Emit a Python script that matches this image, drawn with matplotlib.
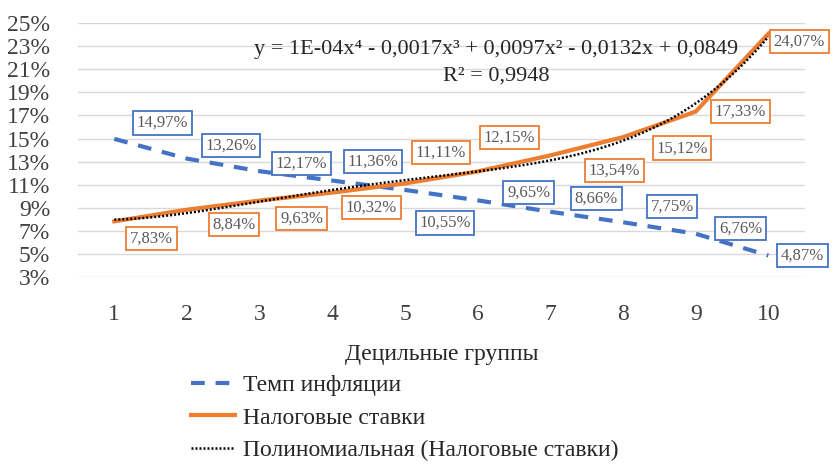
import numpy as np
import matplotlib
matplotlib.use("Agg")
import matplotlib.pyplot as plt

plt.rcParams['font.family'] = ['Liberation Serif', 'DejaVu Serif']

# децильные группы
deciles = np.arange(1, 11)
inflation = np.array([14.97, 13.26, 12.17, 11.36, 10.55, 9.65, 8.66, 7.75, 6.76, 4.87])
tax = np.array([7.83, 8.84, 9.63, 10.32, 11.11, 12.15, 13.54, 15.12, 17.33, 24.07])
infl_labels = ['14,97%', '13,26%', '12,17%', '11,36%', '10,55%',
               '9,65%', '8,66%', '7,75%', '6,76%', '4,87%']
tax_labels = ['7,83%', '8,84%', '9,63%', '10,32%', '11,11%',
              '12,15%', '13,54%', '15,12%', '17,33%', '24,07%']

# где стоят подписи (смещение в пикселях)
infl_off = [(48, 16), (44, 13), (42, 8), (41, 19), (40, -33),
            (51, 8), (46, 13), (49, 16), (45, 5), (34, 0)]
tax_off = [(37, -17), (47, -15), (42, -18), (39, -15), (36, 31),
           (32, 34), (64, -15), (59, -11), (45, 0), (31, -8)]

blue = '#4472C4'
orange = '#ED7D31'

fig = plt.figure(figsize=(8.33, 4.65), dpi=100)
ax = fig.add_axes([0.0936, 0.404, 0.8724, 0.5465])

# полиномиальный тренд 4 степени
coef = np.polyfit(deciles, tax, 4)
xx = np.linspace(1, 10, 200)
trend = np.polyval(coef, xx)

ax.plot(deciles, inflation, color=blue, lw=3, ls=(0, (3.3, 2.6)), label='Темп инфляции', zorder=3)
ax.plot(deciles, tax, color=orange, lw=3, label='Налоговые ставки', zorder=3)
ax.plot(xx, trend, color='black', lw=1.8, ls=(0, (0.8, 0.8)),
        label='Полиномиальная (Налоговые ставки)', zorder=4)

for x, y, t, o in zip(deciles, inflation, infl_labels, infl_off):
    ax.annotate(t, (x, y), xytext=o, textcoords='offset pixels', ha='center', va='center',
                fontsize=12, color='#595959', zorder=5,
                bbox=dict(boxstyle='square,pad=0.22', fc='white', ec=blue, lw=1.3))
for x, y, t, o in zip(deciles, tax, tax_labels, tax_off):
    ax.annotate(t, (x, y), xytext=o, textcoords='offset pixels', ha='center', va='center',
                fontsize=12, color='#595959', zorder=5,
                bbox=dict(boxstyle='square,pad=0.22', fc='white', ec=orange, lw=1.3))

ax.text(0.575, 0.895, 'y = 1E-04x⁴ - 0,0017x³ + 0,0097x² - 0,0132x + 0,0849',
        transform=ax.transAxes, ha='center', va='center', fontsize=16, color='#262626')
ax.text(0.575, 0.79, 'R² = 0,9948', transform=ax.transAxes, ha='center', va='center',
        fontsize=16, color='#262626')

ax.set_xlim(0.5, 10.5)
ax.set_ylim(3, 25)
ax.set_yticks(np.arange(3, 26, 2))
ax.set_yticklabels([f'{v}%' for v in range(3, 26, 2)])
ax.set_xticks(deciles)
ax.tick_params(length=0, labelsize=17, labelcolor='#404040')
ax.tick_params(axis='x', pad=19)
ax.tick_params(axis='y', pad=20)
ax.grid(axis='y', color='#D9D9D9', lw=1)
ax.set_axisbelow(True)
for s in ax.spines.values():
    s.set_visible(False)

ax.set_xlabel('Децильные группы', fontsize=17, color='#262626', labelpad=14)

fig.legend(loc='upper left', bbox_to_anchor=(0.215, 0.219), frameon=False, fontsize=17,
           handlelength=1.85, handletextpad=0.35, labelspacing=0.45, borderpad=0,
           labelcolor='#262626')

fig.savefig('out.png', dpi=100)
